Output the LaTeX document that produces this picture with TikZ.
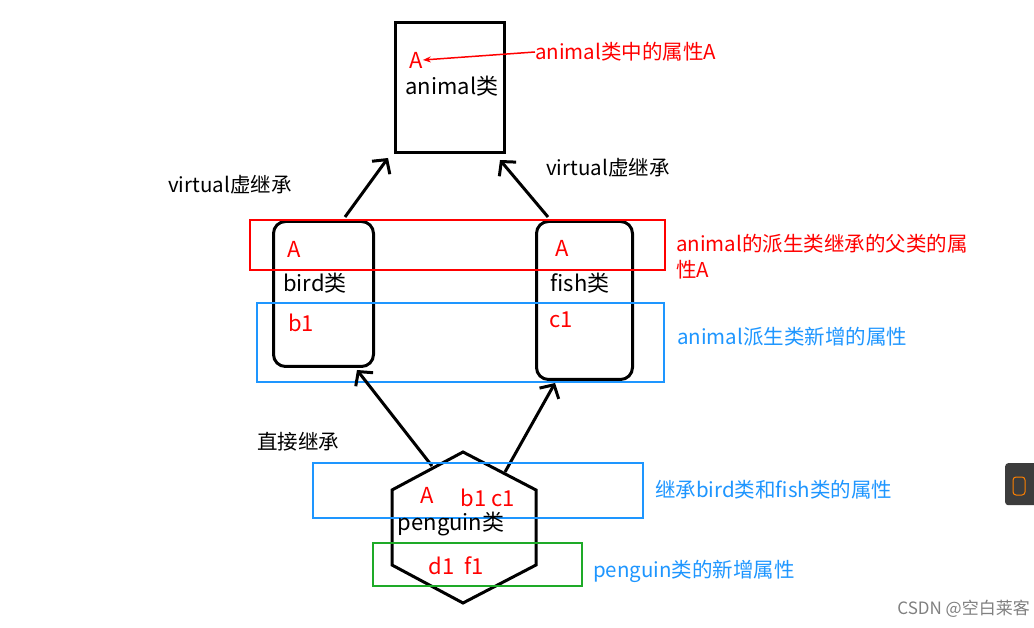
\documentclass[tikz,border=0pt]{standalone}
\usepackage{fontspec}
\setmainfont{Noto Sans CJK SC}
\usetikzlibrary{arrows.meta}
\begin{document}
\begin{tikzpicture}[x=1pt,y=-1pt,
 box/.style={draw=black,line width=3pt},
 arr/.style={line width=3pt,-{Straight Barb[length=10pt,width=22pt,line width=3pt]}},
 lbl/.style={anchor=west,inner sep=0pt,font=\fontsize{20.5}{24}\selectfont},
 txt/.style={inner sep=0pt,font=\fontsize{22}{26}\selectfont}]
\useasboundingbox[fill=white] (0,0) rectangle (1034,628);
\node[box,minimum width=109pt,minimum height=130pt,anchor=north west] (animal) at (394,21) {};
\node[txt,text=red] (aA) at (416,60) {A};
\node[txt] (aname) at (452,86) {animal类};
\node[lbl,text=red] (alab) at (535,52) {animal类中的属性A};
\draw[red,line width=1.5pt,-{Stealth[length=8pt]}] (alab.west) -- (aA.east);
\node[box,rounded corners=12pt,minimum width=100pt,minimum height=145pt,anchor=north west] (bird) at (272,220) {};
\node[box,rounded corners=12pt,minimum width=96pt,minimum height=158pt,anchor=north west] (fish) at (535,220) {};
\draw[red,line width=2pt] (250,220) rectangle (665,270);
\draw[line width=2pt,draw={rgb,255:red,30;green,150;blue,255}] (257,303) rectangle (664,382);
\node[txt,text=red] (bA) at (294,249) {A};
\node[txt] (bn) at (315,283) {bird类};
\node[txt,text=red] (b1) at (301,323) {b1};
\node[txt,text=red] (fA) at (562,248) {A};
\node[txt] (fn) at (580,283) {fish类};
\node[txt,text=red] (c1) at (561,320) {c1};
\node[lbl,text=red] (l1) at (676,244) {animal的派生类继承的父类的属};
\node[lbl,text=red] (l1b) at (676,270) {性A};
\node[lbl,text={rgb,255:red,30;green,150;blue,255}] (l2) at (677,337) {animal派生类新增的属性};
\coordinate (bt) at (345,217); \coordinate (ft) at (548,217);
\draw[arr] (bt) -- (388,158);
\draw[arr] (ft) -- (500,160);
\node[lbl] (v1) at (168,185) {virtual虚继承};
\node[lbl] (v2) at (546,168) {virtual虚继承};
\draw[line width=3pt] (463,452) coordinate (ht) -- (536,490) -- (536,565) -- (463,603) -- (392,565) -- (392,490) -- cycle;
\coordinate (hl) at (432,466); \coordinate (hr) at (505,472);
\draw[arr] (hl) -- (357,370);
\draw[arr] (hr) -- (555,383);
\node[lbl] (zj) at (257,442) {直接继承};
\draw[line width=2pt,draw={rgb,255:red,30;green,150;blue,255}] (313,463) rectangle (643,518);
\node[txt,text=red] (pA) at (427,495) {A};
\node[txt,text=red] (pbc) at (488,498) {b1 c1};
\node[txt] (pn) at (451,524) {penguin类};
\draw[line width=2pt,draw={rgb,255:red,30;green,170;blue,40}] (373,543) rectangle (582,586);
\node[txt,text=red] (pdf) at (456,566) {d1\ \ f1};
\node[lbl,text={rgb,255:red,30;green,150;blue,255}] (l3) at (655,490) {继承bird类和fish类的属性};
\node[lbl,text={rgb,255:red,30;green,150;blue,255}] (l4) at (593,571) {penguin类的新增属性};
\node[fill={rgb,255:red,60;green,60;blue,60},rounded corners=3pt,minimum width=34pt,minimum height=42pt,anchor=north west] (icon) at (1005,463) {};
\draw[orange,line width=1pt,rounded corners=3pt] (1013,477) rectangle (1025,495);
\node[anchor=east,inner sep=0pt,text=gray,font=\fontsize{17}{20}\selectfont] (wm) at (1030,609) {CSDN @空白莱客};
\end{tikzpicture}
\end{document}
